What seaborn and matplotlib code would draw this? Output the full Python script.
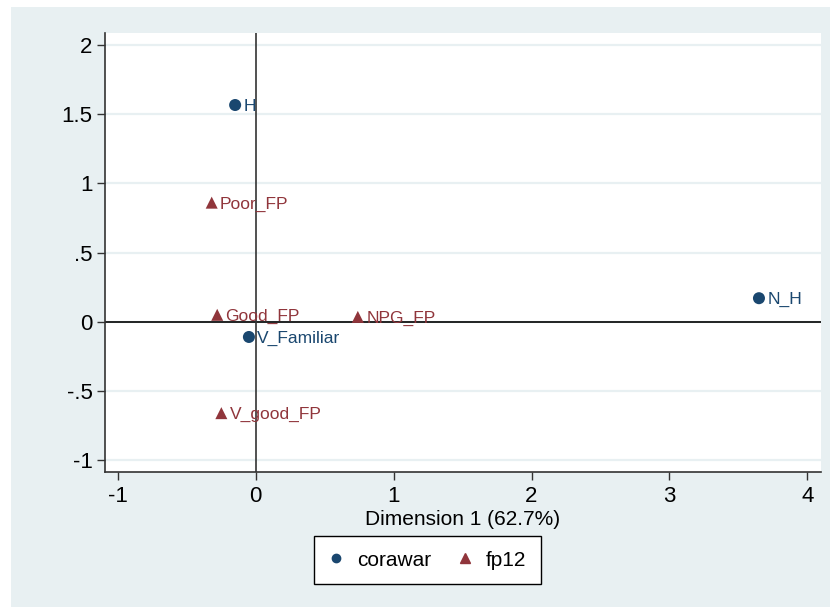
import pandas as pd
import matplotlib.pyplot as plt
import seaborn as sns
from matplotlib.patches import Rectangle

sns.set_style("white")
plt.rcParams['font.family'] = ['Liberation Sans', 'DejaVu Sans']
plt.rcParams['text.color'] = 'black'

# coordinates
labels = ["H", "V_Familiar", "N_H", "Poor_FP", "Good_FP", "NPG_FP", "V_good_FP"]
dim1 = [-0.15, -0.05, 3.65, -0.32, -0.28, 0.74, -0.25]
dim2 = [1.565, -0.11, 0.17, 0.86, 0.05, 0.035, -0.66]
group = ["corawar", "corawar", "corawar", "fp12", "fp12", "fp12", "fp12"]

xticks = [-1, 0, 1, 2, 3, 4]
yticks = [2, 1.5, 1, 0.5, 0, -0.5, -1]
ytick_labels = ["2", "1.5", "1", ".5", "0", "-.5", "-1"]

df = pd.DataFrame({"label": labels, "x": dim1, "y": dim2, "group": group})

blue = "#1a476f"
red = "#90353b"
panel = "#e8f0f2"
palette = {"corawar": blue, "fp12": red}
markers = {"corawar": "o", "fp12": "^"}

W, H = 830, 607
fig = plt.figure(figsize=(W / 100, H / 100), dpi=100, facecolor="white")
fig.patches.append(Rectangle((11 / W, 0), 1, 1 - 7 / H, transform=fig.transFigure,
                             facecolor=panel, edgecolor="none", zorder=-10))
ax = fig.add_axes([105 / W, 1 - 472 / H, (821 - 105) / W, (472 - 33) / H])
ax.set_facecolor("white")

# gridlines
for yt in yticks:
    ax.axhline(yt, color=panel, lw=1.6, zorder=0)
ax.axhline(0, color="black", lw=1.2, zorder=1)
ax.axvline(0, color="#333333", lw=1.2, zorder=1)

sns.scatterplot(data=df, x="x", y="y", hue="group", style="group",
                palette=palette, markers=markers, s=75, edgecolor="none",
                ax=ax, zorder=3, legend=False)

for i, row in df.iterrows():
    ax.annotate(row["label"], (row["x"], row["y"]), xytext=(6, -1),
                textcoords="offset points", va="center", ha="left",
                fontsize=12.5, color=palette[row["group"]], zorder=4)

ax.set_xlim(-1.094, 4.1)
ax.set_ylim(-1.085, 2.085)
ax.set_xticks(xticks)
ax.set_xticklabels([str(t) for t in xticks])
ax.set_yticks(yticks)
ax.set_yticklabels(ytick_labels)
ax.tick_params(axis="both", labelsize=16, length=6, width=1, color="#333333",
               labelcolor="black", direction="out", bottom=True, left=True)
ax.tick_params(axis="x", pad=4)
ax.tick_params(axis="y", pad=3)
ax.set_xlabel("Dimension 1 (62.7%)", fontsize=15, labelpad=2, color="black")
ax.set_ylabel("")

for s in ["top", "right"]:
    ax.spines[s].set_visible(False)
for s in ["left", "bottom"]:
    ax.spines[s].set_color("#333333")
    ax.spines[s].set_linewidth(1.2)

h1 = plt.Line2D([], [], ls="none", marker="o", color=blue, markersize=6)
h2 = plt.Line2D([], [], ls="none", marker="^", color=red, markersize=7)
leg = fig.legend([h1, h2], ["corawar", "fp12"], loc="center",
                 bbox_to_anchor=(427 / W, 1 - 560 / H), ncol=2, fontsize=15,
                 frameon=True, fancybox=False, edgecolor="black",
                 facecolor="white", framealpha=1, handlelength=0.8,
                 handletextpad=0.6, columnspacing=1.2, borderpad=0.7)
leg.get_frame().set_linewidth(1.0)

fig.savefig("out.png", dpi=100, facecolor=fig.get_facecolor())
